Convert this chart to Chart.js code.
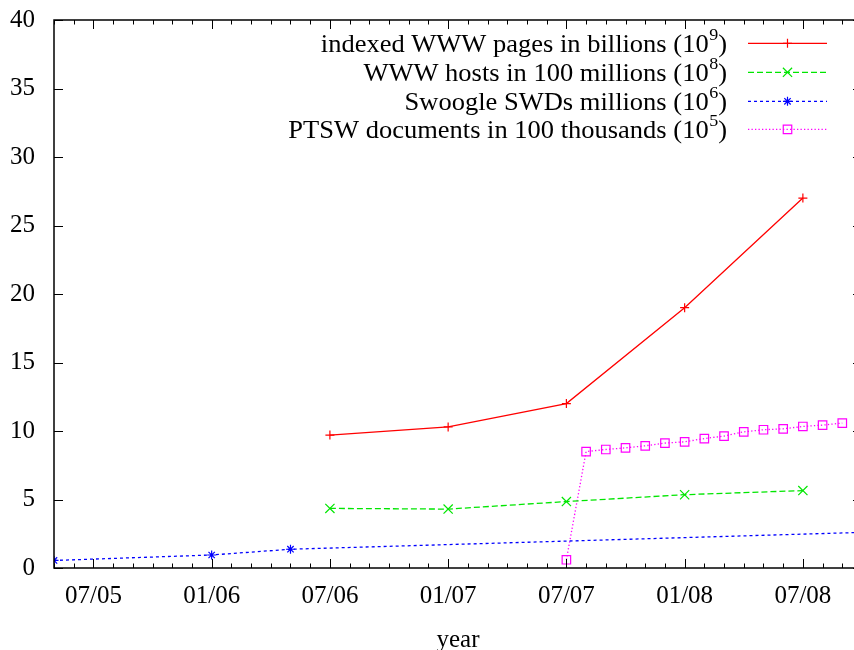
<!DOCTYPE html>
<html>
<head>
<meta charset="utf-8">
<script src="https://cdn.jsdelivr.net/npm/chart.js@4.4.1/dist/chart.umd.min.js"></script>
<style>
  html, body { margin: 0; padding: 0; background: #fff; overflow: hidden; }
  #wrap { width: 854px; height: 650px; overflow: hidden; }
</style>
</head>
<body>
<div id="wrap"><canvas id="chart" width="872" height="650"></canvas></div>
<script>
// x values are months, written as 'YYYY-MM'
const xRange = ['2005-05', '2008-10'];
const xTickLabels = ['07/05', '01/06', '07/06', '01/07', '07/07', '01/08', '07/08'];
const yTicks = [0, 5, 10, 15, 20, 25, 30, 35, 40];

const pagesDates = ['2006-07', '2007-01', '2007-07', '2008-01', '2008-07'];
const pagesValues = [9.7, 10.3, 12.0, 19.0, 27.0];

const hostsDates = ['2006-07', '2007-01', '2007-07', '2008-01', '2008-07'];
const hostsValues = [4.35, 4.3, 4.85, 5.35, 5.65];

const swoogleDates = ['2005-05', '2006-01', '2006-05', '2008-10'];
const swoogleValues = [0.55, 0.95, 1.37, 2.6];

const ptswDates = ['2007-07', '2007-08', '2007-09', '2007-10', '2007-11', '2007-12', '2008-01',
  '2008-02', '2008-03', '2008-04', '2008-05', '2008-06', '2008-07', '2008-08', '2008-09'];
const ptswValues = [0.6, 8.5, 8.65, 8.77, 8.92, 9.12, 9.21, 9.45, 9.63, 9.94, 10.09, 10.16, 10.33, 10.43, 10.58];

const legendLabels = ['indexed WWW pages in billions', 'WWW hosts in 100 millions',
  'Swoogle SWDs millions', 'PTSW documents in 100 thousands'];
const legendExponents = ['9', '8', '6', '5'];

const FONT = "'Liberation Serif', 'Times New Roman', serif";

function toMonth(s) {
  const [y, m] = s.split('-').map(Number);
  return (y - 2005) * 12 + (m - 1);
}
function labelToMonth(l) {
  const [m, y] = l.split('/').map(Number);
  return (2000 + y - 2005) * 12 + (m - 1);
}
function points(dates, values) {
  return dates.map((d, i) => ({ x: toMonth(d), y: values[i] }));
}

const majorMonths = xTickLabels.map(labelToMonth);

const frame = {
  id: 'frame',
  afterDraw(chart) {
    const { ctx, chartArea: a, scales: { x, y } } = chart;
    ctx.save();
    ctx.strokeStyle = '#000';
    ctx.setLineDash([]);
    ctx.lineWidth = 1;
    ctx.beginPath();
    for (let m = Math.ceil(x.min); m <= x.max; m++) {
      const px = Math.round(x.getPixelForValue(m)) + 0.5;
      const len = majorMonths.includes(m) ? 9 : 4.5;
      ctx.moveTo(px, a.bottom); ctx.lineTo(px, a.bottom - len);
      ctx.moveTo(px, a.top); ctx.lineTo(px, a.top + len);
    }
    y.ticks.forEach(t => {
      const py = Math.round(y.getPixelForValue(t.value)) + 0.5;
      ctx.moveTo(a.left, py); ctx.lineTo(a.left + 9, py);
      ctx.moveTo(a.right, py); ctx.lineTo(a.right - 9, py);
    });
    ctx.stroke();
    ctx.lineWidth = 1.5;
    ctx.strokeRect(a.left, a.top, a.right - a.left, a.bottom - a.top);

    // axis title
    ctx.fillStyle = '#000';
    ctx.font = '25px ' + FONT;
    ctx.textAlign = 'center';
    ctx.textBaseline = 'alphabetic';
    ctx.fillText('year', (a.left + a.right) / 2, 647);

    // gnuplot style key: text right aligned, then a line sample with its marker
    const textRight = 727, lineL = 748, lineR = 827, stretch = 1.06;
    chart.data.datasets.forEach((ds, i) => {
      const rowY = 43 + i * 28.8;
      const base = rowY + 9;
      ctx.save();
      ctx.translate(textRight, base);
      ctx.scale(stretch, 1);
      ctx.fillStyle = '#000';
      ctx.textAlign = 'right';
      ctx.font = '25px ' + FONT;
      let xr = 0;
      ctx.fillText(')', xr, 0);
      xr -= ctx.measureText(')').width;
      ctx.font = '17px ' + FONT;
      ctx.fillText(legendExponents[i], xr, -12);
      xr -= ctx.measureText(legendExponents[i]).width + 0.5;
      ctx.font = '25px ' + FONT;
      ctx.fillText(legendLabels[i] + ' (10', xr, 0);
      ctx.restore();

      const ly = Math.round(rowY) + 0.3;
      ctx.strokeStyle = ds.borderColor;
      ctx.lineWidth = ds.borderWidth;
      ctx.setLineDash(ds.borderDash || []);
      ctx.beginPath();
      ctx.moveTo(lineL, ly);
      ctx.lineTo(lineR, ly);
      ctx.stroke();
      ctx.setLineDash([]);
      ctx.fillStyle = 'rgba(0,0,0,0)';
      ctx.lineWidth = 1.2;
      Chart.helpers.drawPoint(ctx, {
        pointStyle: ds.pointStyle, radius: ds.pointRadius, rotation: 0, borderWidth: 1.2
      }, (lineL + lineR) / 2, ly);
    });
    ctx.restore();
  }
};

Chart.defaults.font.family = FONT;
Chart.defaults.font.size = 25;
Chart.defaults.color = '#000';

new Chart(document.getElementById('chart'), {
  type: 'line',
  data: {
    datasets: [
      {
        label: legendLabels[0], data: points(pagesDates, pagesValues),
        borderColor: '#ff0000', pointStyle: 'cross', pointRadius: 4.5
      },
      {
        label: legendLabels[1], data: points(hostsDates, hostsValues),
        borderColor: '#00e600', borderDash: [6, 3], pointStyle: 'crossRot', pointRadius: 6.5
      },
      {
        label: legendLabels[2], data: points(swoogleDates, swoogleValues),
        borderColor: '#0000ff', borderDash: [3, 3], pointStyle: 'star', pointRadius: 4.5
      },
      {
        label: legendLabels[3], data: points(ptswDates, ptswValues),
        borderColor: '#ff00ff', borderDash: [1.3, 2.2], pointStyle: 'rect', pointRadius: 6
      }
    ].map(d => Object.assign({
      fill: false, tension: 0, borderWidth: 1.3, pointBorderWidth: 1.2,
      pointBackgroundColor: 'rgba(0,0,0,0)', pointBorderColor: d.borderColor
    }, d))
  },
  plugins: [frame],
  options: {
    responsive: false,
    animation: false,
    events: [],
    layout: { autoPadding: false, padding: { top: 20, right: 10, left: 0, bottom: 0 } },
    plugins: { legend: { display: false }, tooltip: { enabled: false } },
    scales: {
      x: {
        type: 'linear',
        min: toMonth(xRange[0]),
        max: toMonth(xRange[1]),
        afterBuildTicks: s => { s.ticks = majorMonths.map(v => ({ value: v })); },
        afterFit: s => { s.height = 82; s.paddingLeft = 0; s.paddingRight = 0; },
        grid: { display: false, drawTicks: false },
        border: { display: false },
        ticks: {
          autoSkip: false, maxRotation: 0, padding: 13,
          callback: (v, i) => xTickLabels[i]
        }
      },
      y: {
        min: yTicks[0],
        max: yTicks[yTicks.length - 1],
        afterBuildTicks: s => { s.ticks = yTicks.map(v => ({ value: v })); },
        afterFit: s => { s.width = 54; s.paddingTop = 0; s.paddingBottom = 0; },
        grid: { display: false, drawTicks: false },
        border: { display: false },
        ticks: { padding: 19, callback: v => String(v) }
      }
    }
  }
});
</script>
</body>
</html>
